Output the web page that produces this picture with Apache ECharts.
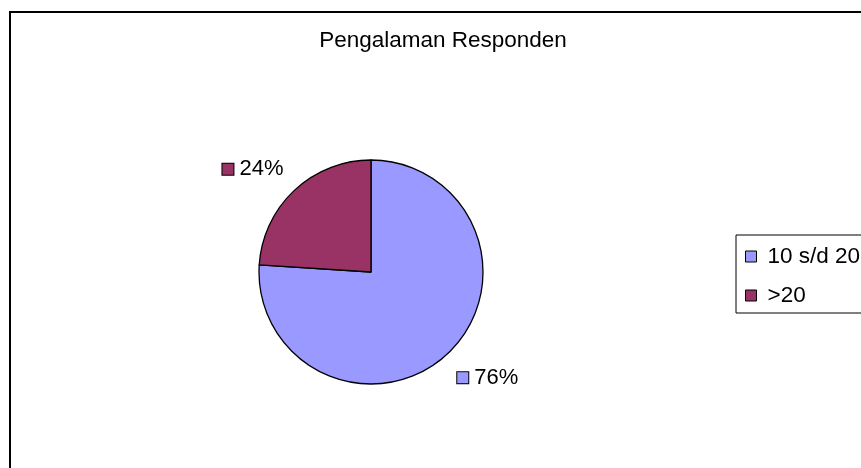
<!DOCTYPE html>
<html>
<head>
<meta charset="utf-8">
<script src="https://cdn.jsdelivr.net/npm/echarts@6/dist/echarts.min.js"></script>
<style>
html,body{margin:0;padding:0;background:#fff;}
#chart{width:861px;height:468px;}
</style>
</head>
<body>
<div id="chart"></div>
<script>
var titleText = 'Pengalaman Responden';
var categories = ['10 s/d 20', '>20'];
var values = [76, 24];
var colors = ['#9999FF', '#993366'];

var FONT = 'Arial, "Liberation Sans", sans-serif';
var lineSettings = [
  {length: 33, length2: -18},
  {length: 29, length2: -14}
];

var data = categories.map(function (c, i) {
  var rich = {};
  rich['sq' + i] = {width: 11, height: 11, backgroundColor: colors[i], borderColor: '#000', borderWidth: 1};
  rich.v = {fontSize: 22, fontFamily: FONT, color: '#000', padding: [0, 0, 0, 6]};
  return {
    name: c,
    value: values[i],
    itemStyle: {color: colors[i]},
    labelLine: {show: false, length: lineSettings[i].length, length2: lineSettings[i].length2},
    label: {
      formatter: '{sq' + i + '|}{v|{d}%}',
      rich: rich
    }
  };
});

var chart = echarts.init(document.getElementById('chart'), null, {renderer: 'canvas'});
chart.setOption({
  backgroundColor: '#fff',
  animation: false,
  title: {
    text: titleText,
    left: 443,
    textAlign: 'center',
    top: 29,
    padding: 0,
    textStyle: {fontSize: 22.5, fontWeight: 'normal', color: '#000', fontFamily: FONT}
  },
  legend: {
    orient: 'vertical',
    left: 736,
    top: 235,
    padding: [10, 40, 6, 9],
    itemGap: 16,
    itemWidth: 11,
    itemHeight: 11,
    icon: 'rect',
    borderColor: '#000',
    borderWidth: 1,
    itemStyle: {borderColor: '#000', borderWidth: 1},
    textStyle: {fontSize: 22.5, color: '#000', fontFamily: FONT, padding: [0, 0, 0, 6]},
    data: categories
  },
  graphic: [{
    type: 'rect',
    shape: {x: 10, y: 12, width: 900, height: 500},
    style: {fill: 'none', stroke: '#000', lineWidth: 2},
    silent: true
  }],
  series: [{
    type: 'pie',
    center: [371, 272],
    radius: 112,
    startAngle: 90,
    clockwise: true,
    avoidLabelOverlap: false,
    itemStyle: {borderColor: '#000', borderWidth: 1.3},
    label: {show: true, position: 'outside', distanceToLabelLine: 5},
    emphasis: {disabled: true},
    data: data
  }]
});
</script>
</body>
</html>
